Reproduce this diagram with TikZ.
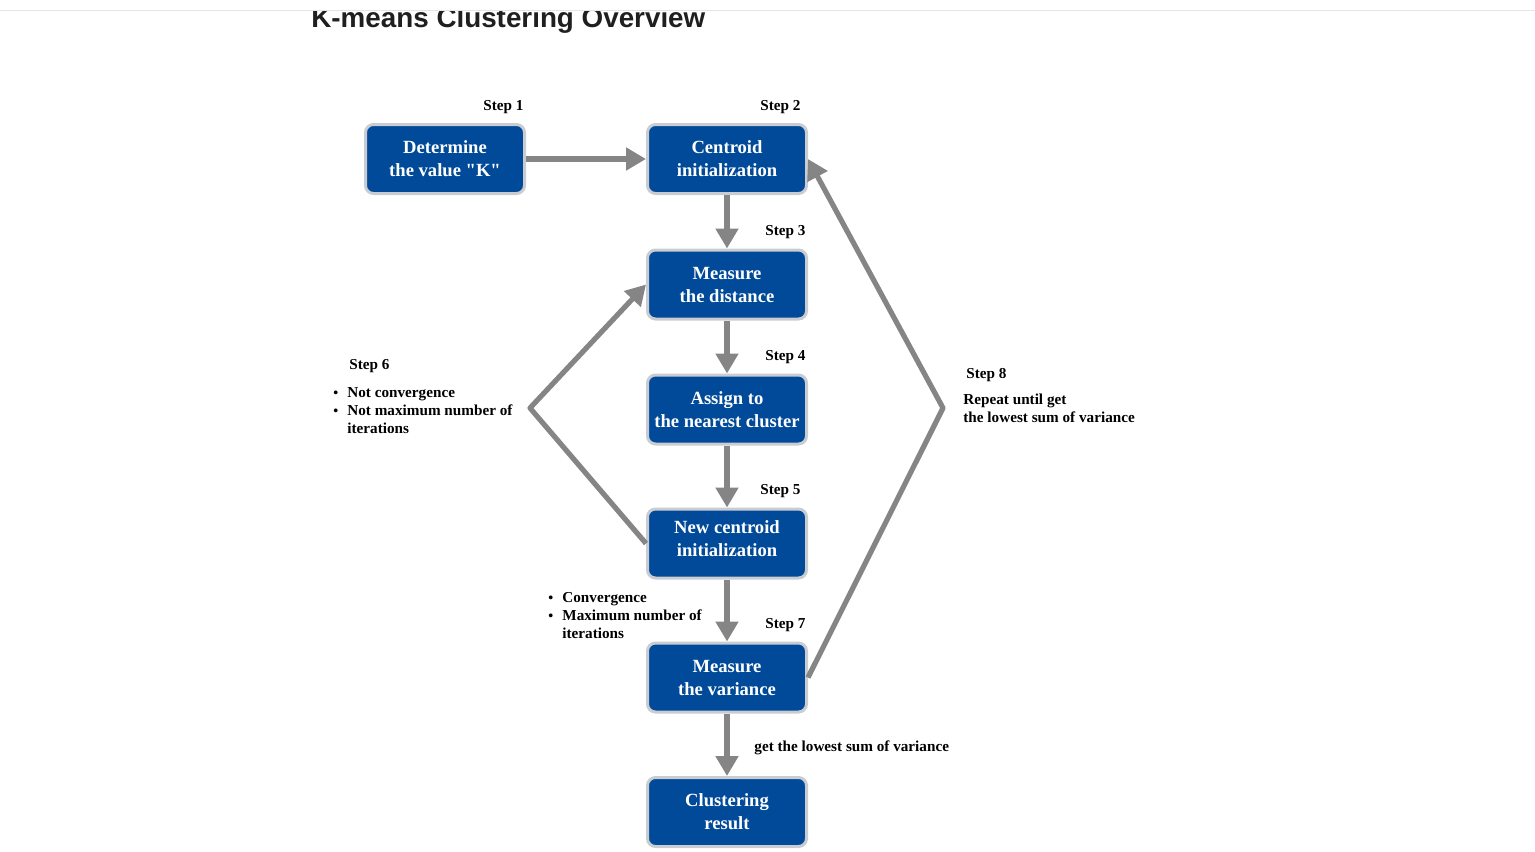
\documentclass[tikz,border=0pt]{standalone}
\usepackage{fontspec}
\setmainfont{Liberation Serif}
\newfontfamily\titlefont{Liberation Sans}
\usetikzlibrary{arrows.meta}
\definecolor{boxblue}{HTML}{004A99}
\definecolor{boxrim}{HTML}{C9CDD2}
\definecolor{flowgray}{HTML}{858585}
\newcommand{\bul}{\makebox[7pt][l]{\scriptsize\textbullet}}
\begin{document}
\begin{tikzpicture}[x=0.5pt, y=-0.5pt,
    stepbox/.style={rectangle, draw=boxrim, line width=1.5pt, fill=boxblue, minimum width=79.5pt, minimum height=34.5pt, rounded corners=4pt, text=white, align=center, inner sep=0pt, font=\bfseries\fontsize{9.3}{11.5}\selectfont},
    steplabel/.style={anchor=base west, inner sep=0pt, font=\bfseries\fontsize{7.6}{9}\selectfont},
    note/.style={anchor=north west, inner sep=0pt, align=left, font=\bfseries\fontsize{7.6}{9}\selectfont},
    arrow/.style={-{Triangle[width=11pt, length=10pt]}, line width=2.6pt, draw=flowgray}
]
    \useasboundingbox (0,0) rectangle (1535,851);

    % Title (page scrolled, top cut off)
    \begin{scope}
        \clip (0,11) rectangle (1535,851);
        \node[anchor=base west, inner sep=0pt, font=\titlefont\bfseries\fontsize{13.9}{15}\selectfont, text=black!88] (title) at (311,27) {K-means Clustering Overview};
    \end{scope}
    \draw[black!10, line width=0.5pt] (0,10) -- (1535,10);

    % Steps
    \node[stepbox] (determine) at (445,159) {Determine\\the value \textquotedbl K\textquotedbl};
    \node[stepbox] (centroid) at (727,159) {Centroid\\initialization};
    \node[stepbox] (distance) at (727,284.5) {Measure\\the distance};
    \node[stepbox] (assign) at (727,409.5) {Assign to\\the nearest cluster};
    \node[stepbox, text depth=5pt] (newcentroid) at (727,543.5) {New centroid\\initialization};
    \node[stepbox] (variance) at (727,677.5) {Measure\\the variance};
    \node[stepbox] (result) at (727,812) {Clustering\\result};

    % Step labels
    \node[steplabel] (lab1) at (483,110) {Step 1};
    \node[steplabel] (lab2) at (760,110) {Step 2};
    \node[steplabel] (lab3) at (765,235) {Step 3};
    \node[steplabel] (lab4) at (765,360) {Step 4};
    \node[steplabel] (lab5) at (760,494) {Step 5};
    \node[steplabel] (lab6) at (349,369) {Step 6};
    \node[steplabel] (lab7) at (765,628) {Step 7};
    \node[steplabel] (lab8) at (966,378) {Step 8};

    % Notes
    \node[note] (notconv) at (333,387) {\bul Not convergence\\
        \bul Not maximum number of\\
        \hspace*{7pt}iterations};
    \node[note] (conv) at (548,592) {\bul Convergence\\
        \bul Maximum number of\\
        \hspace*{7pt}iterations};
    \node[note] (repeat) at (963,394) {Repeat until get\\the lowest sum of variance};
    \node[steplabel] (lowest) at (754,751) {get the lowest sum of variance};

    % Arrows
    \coordinate (leftbend) at (530,408);
    \coordinate (rightbend) at (943,408);
    \draw[arrow] (determine) -- (centroid);
    \draw[arrow] (centroid) -- (distance);
    \draw[arrow] (distance) -- (assign);
    \draw[arrow] (assign) -- (newcentroid);
    \draw[arrow] (newcentroid) -- (variance);
    \draw[arrow] (variance) -- (result);
    \draw[arrow, line join=round] (newcentroid.west) -- (leftbend) -- (distance.west);
    \draw[arrow, line join=round] (variance.east) -- (rightbend) -- (centroid.east);
\end{tikzpicture}
\end{document}
